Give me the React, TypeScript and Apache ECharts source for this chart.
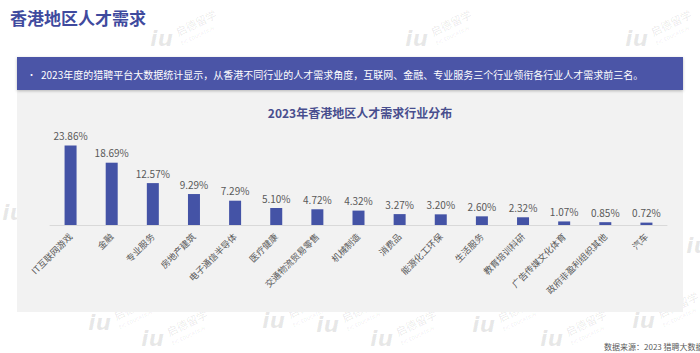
import React, { useEffect, useRef } from "react";
import * as echarts from "echarts";

const pageTitle = "香港地区人才需求";
const bannerText =
  "2023年度的猎聘平台大数据统计显示，从香港不同行业的人才需求角度，互联网、金融、专业服务三个行业领衔各行业人才需求前三名。";
const chartTitle = "2023年香港地区人才需求行业分布";
const sourceText = "数据来源：2023 猎聘大数据";

const categories = [
  "IT互联网游戏",
  "金融",
  "专业服务",
  "房地产建筑",
  "电子通信半导体",
  "医疗健康",
  "交通物流贸易零售",
  "机械制造",
  "消费品",
  "能源化工环保",
  "生活服务",
  "教育培训科研",
  "广告传媒文化体育",
  "政府非盈利组织其他",
  "汽车",
];
const values = [23.86, 18.69, 12.57, 9.29, 7.29, 5.1, 4.72, 4.32, 3.27, 3.2, 2.6, 2.32, 1.07, 0.85, 0.72];

const FONT = "'Noto Sans CJK SC', 'Noto Sans', sans-serif";

// decorative watermark anchor points (outside the content panel)
const markSpots: [number, number][] = [
  [150, 38],
  [405, 38],
  [625, 38],
  [2, 212],
  [686, 245],
  [88, 322],
  [141, 338],
  [262, 320],
  [316, 324],
  [370, 338],
  [472, 324],
  [540, 338],
  [632, 320],
];

const WM = "rgba(0,0,0,0.09)";

function watermarks(): any[] {
  const out: any[] = [];
  markSpots.forEach(([x, y]) => {
    out.push({
      type: "text",
      z: -30,
      silent: true,
      x,
      y,
      style: {
        text: "iu",
        fontSize: 22,
        fontWeight: "bold",
        fontStyle: "italic",
        fontFamily: "DejaVu Sans",
        fill: WM,
        textVerticalAlign: "middle",
      },
    });
    out.push({
      type: "text",
      z: -30,
      silent: true,
      x: x + 26,
      y: y - 6,
      rotation: 0.45,
      style: {
        text: "启德留学",
        fontSize: 11,
        fontFamily: FONT,
        fill: WM,
        textVerticalAlign: "middle",
      },
    });
    out.push({
      type: "text",
      z: -30,
      silent: true,
      x: x + 31,
      y: y + 5,
      rotation: 0.45,
      style: {
        text: "EIC EDUCATION",
        fontSize: 5,
        fontFamily: FONT,
        fill: WM,
        textVerticalAlign: "middle",
      },
    });
  });
  return out;
}

export default function App() {
  const ref = useRef<HTMLDivElement>(null);
  useEffect(() => {
    document.body.style.margin = "0";
    const chart = echarts.init(ref.current!, undefined, { renderer: "svg" });
    chart.setOption({
      animation: false,
      backgroundColor: "#ffffff",
      textStyle: { fontFamily: FONT },
      grid: { left: 50, right: 33, top: 125, bottom: 128, containLabel: false },
      xAxis: {
        type: "category",
        data: categories,
        axisLine: { lineStyle: { color: "#d9d9d9", width: 1 } },
        axisTick: { show: false },
        axisLabel: {
          rotate: 45,
          interval: 0,
          margin: 10,
          fontSize: 9,
          color: "#595959",
          fontFamily: FONT,
        },
      },
      yAxis: {
        type: "value",
        min: 0,
        max: 30,
        show: false,
        splitLine: { show: false },
      },
      series: [
        {
          type: "bar",
          data: values,
          barWidth: 12,
          itemStyle: { color: "#4453a6" },
          label: {
            show: true,
            position: "top",
            distance: 5,
            fontSize: 10,
            color: "#595959",
            fontFamily: FONT,
            formatter: (p: any) => p.value.toFixed(2) + "%",
          },
        },
      ],
      graphic: [
        ...watermarks(),
        {
          type: "rect",
          z: -10,
          silent: true,
          shape: { x: 17, y: 60, width: 666, height: 252 },
          style: { fill: "#f2f2f2" },
        },
        {
          type: "rect",
          z: 10,
          shape: { x: 17, y: 57, width: 666, height: 33 },
          style: { fill: "#4b55a7", shadowBlur: 3, shadowColor: "rgba(0,0,0,0.25)", shadowOffsetY: 1 },
        },
        {
          type: "text",
          z: 11,
          x: 27,
          y: 74,
          style: {
            text: "•",
            fontSize: 9,
            fill: "#ffffff",
            fontFamily: FONT,
            textVerticalAlign: "middle",
          },
        },
        {
          type: "text",
          z: 11,
          x: 41,
          y: 74,
          style: {
            text: bannerText,
            fontSize: 10,
            fill: "#ffffff",
            fontFamily: FONT,
            textVerticalAlign: "middle",
          },
        },
        {
          type: "text",
          z: 11,
          x: 10,
          y: 17,
          style: {
            text: pageTitle,
            fontSize: 17,
            fontWeight: "bold",
            fill: "#3f4a9e",
            fontFamily: FONT,
            textVerticalAlign: "middle",
          },
        },
        {
          type: "text",
          z: 11,
          x: 360,
          y: 112,
          style: {
            text: chartTitle,
            fontSize: 12,
            fontWeight: "bold",
            fill: "#484e8e",
            fontFamily: FONT,
            textAlign: "center",
            textVerticalAlign: "middle",
          },
        },
        {
          type: "text",
          z: 11,
          x: 604,
          y: 346,
          style: {
            text: sourceText,
            fontSize: 8,
            fill: "#595959",
            fontFamily: FONT,
            textVerticalAlign: "middle",
          },
        },
      ],
    });
    return () => chart.dispose();
  }, []);
  return (
    <div
      ref={ref}
      style={{ position: "fixed", left: 0, top: 0, width: 700, height: 353 }}
    />
  );
}
